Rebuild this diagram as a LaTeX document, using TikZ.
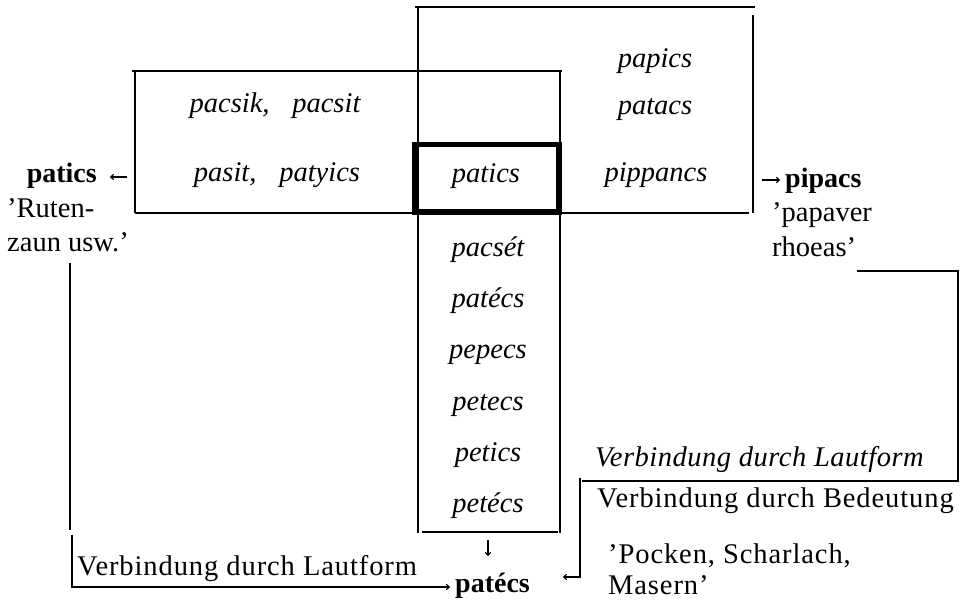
\documentclass[tikz,border=0pt]{standalone}
\usepackage{fontspec}
\setmainfont{Liberation Serif}
\usetikzlibrary{arrows.meta}
\begin{document}
\begin{tikzpicture}[x=1pt,y=-1pt,
  rule/.style={line width=1.4pt},
  heavybox/.style={line width=5.5pt},
  word/.style={font=\fontsize{28.5}{32}\selectfont\itshape, inner sep=0pt, anchor=base},
  lemma/.style={font=\fontsize{28}{32}\selectfont\bfseries, inner sep=0pt},
  gloss/.style={font=\fontsize{28.5}{32}\selectfont, inner sep=0pt, anchor=base west},
  wide/.style={font=\fontsize{28.5}{32}\selectfont\addfontfeature{LetterSpace=3.2}},
  wideit/.style={font=\fontsize{28.5}{32}\selectfont\itshape\addfontfeature{LetterSpace=1.8}},
  arr/.style={line width=1.1pt, -{To[length=4pt,width=6pt]}}
]
\useasboundingbox (0,0) rectangle (964,601);

% ---- boxes ----
% upper right box
\draw[rule] (415,7) -- (755,7);
\draw[rule] (418,7) -- (418,533);
\draw[rule] (753,15) -- (753,213);
\draw[rule] (562,213) -- (749,213);
% left box
\draw[rule] (132,71) -- (562,71);
\draw[rule] (135,71) -- (135,213);
\draw[rule] (135,213) -- (413,213);
% column
\draw[rule] (560,71) -- (560,533);
\draw[rule] (422,532) -- (558,532);
% heavy central box
\draw[heavybox] (415,144.5) rectangle (559,212);

% ---- words ----
\node[word] (w1) at (275,113) {pacsik,\hspace{0.8em}pacsit};
\node[word] (w2) at (277,182) {pasit,\hspace{0.8em}patyics};
\node[word] (center) at (486,183) {patics};
\node[word] (r1) at (655,68) {papics};
\node[word] (r2) at (655,115) {patacs};
\node[word] (r3) at (656,182) {pippancs};
\node[word] (c1) at (488,257) {pacsét};
\node[word] (c2) at (488,308) {patécs};
\node[word] (c3) at (488,359) {pepecs};
\node[word] (c4) at (488,410) {petecs};
\node[word] (c5) at (488,461) {petics};
\node[word] (c6) at (488,512) {petécs};

% ---- lemmas and glosses ----
\node[lemma, anchor=base east] (patL) at (97,183) {patics};
\node[gloss] (rut1) at (7,218) {'Ruten-};
\node[gloss] (rut2) at (7,252) {zaun usw.'};
\node[lemma, anchor=base west] (pip) at (785,188) {pipacs};
\node[gloss] (pap1) at (772,222) {'papaver};
\node[gloss] (pap2) at (772,257) {rhoeas'};
\node[lemma, anchor=base west] (patB) at (455,592) {patécs};
\node[gloss, wide] (pock1) at (608,563) {'Pocken, Scharlach,};
\node[gloss, wide] (pock2) at (608,594) {Masern'};
\node[gloss, wideit] (vl2) at (595,467) {Verbindung durch Lautform};
\node[gloss, wide] (vb) at (597,507) {Verbindung durch Bedeutung};
\node[gloss, wide] (vl1) at (77,575) {Verbindung durch Lautform};

% ---- connectors ----
\coordinate (aL) at (127,177);
\draw[arr] (aL) -- (110,177);
\coordinate (aR) at (762,180);
\draw[arr] (aR) -- (780,180);
\coordinate (aD) at (488,540);
\draw[arr] (aD) -- (488,556);

% left connection (Lautform)
\coordinate (lt) at (70,263);
\draw[rule, line width=1.2pt] (lt) -- (70,530);
\coordinate (lb) at (72,535);
\draw[rule, line width=1.2pt, -{To[length=4pt,width=6pt]}] (lb) |- ([xshift=-5pt]patB.west |- 0,587);

% right connection
\coordinate (rt) at (857,271);
\draw[rule] (rt) -- (958,271) -- (958,481) -- (582,481);
\coordinate (rb) at (580,478);
\draw[rule, line width=1.2pt] (rb) -- (580,578);
\draw[arr] (580,577) -- (563,577);
\end{tikzpicture}
\end{document}
